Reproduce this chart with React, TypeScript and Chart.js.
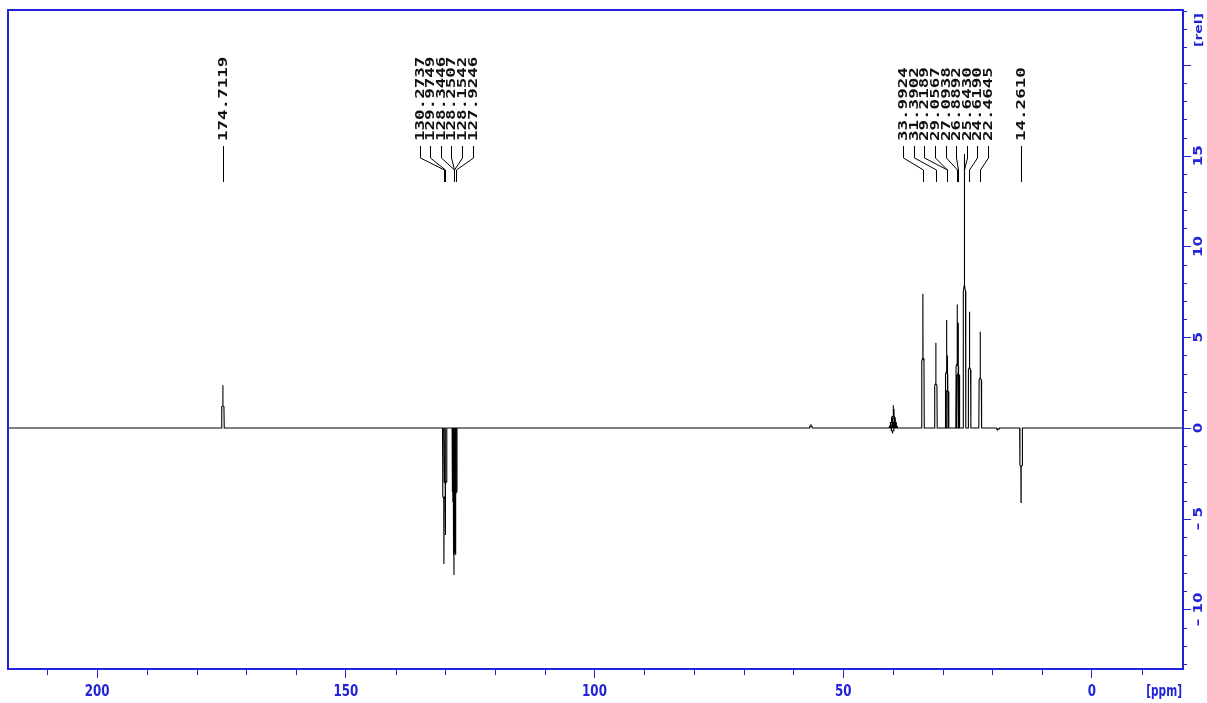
import React, { useEffect, useRef } from "react";
import { Chart, registerables } from "chart.js";
Chart.register(...registerables);

// ---- data ----
// labelled signals (ppm, relative intensity)
const signalPpm = [
  174.7119, 130.2737, 129.9749, 128.3446, 128.2507, 128.1542, 127.9246,
  33.9924, 31.3902, 29.2189, 29.0567, 27.0938, 26.8892, 25.643, 24.619, 22.4645,
  14.261,
];
const signalHeight = [
  2.35, -7.5, -5.9, -7.0, -8.1, -6.9, -7.0,
  7.4, 4.7, 5.95, 4.0, 6.8, 5.8, 15.1, 6.4, 5.3,
  -4.1,
];
// unlabelled small signals (solvent multiplet, impurities)
const minorPpm = [56.5, 40.5, 40.3, 40.1, 39.95, 39.8, 39.6, 39.4, 18.9];
const minorHeight = [0.2, 0.2, 0.6, -0.3, 1.25, 1.05, 0.6, 0.2, -0.1];

const xMajorTicks = [200, 150, 100, 50, 0];
const xTickText = ["200", "150", "100", "50", "0"];
const yLabelTicks = [-10, -5, 0, 5, 10, 15];
const yLabelText = ["\u2013 10", "\u2013 5", "0", "5", "10", "15"];

const X_MIN = -18.3;
const X_MAX = 217.9;
const Y_MIN = -13.28;
const Y_MAX = 23.03;

const BLUE = "#2222d8";
const SANS = '"DejaVu Sans", sans-serif';

function buildSpectrum() {
  const peaks = signalPpm
    .map((p, i) => ({ p, h: signalHeight[i] }))
    .concat(minorPpm.map((p, i) => ({ p, h: minorHeight[i] })))
    .sort((a, b) => b.p - a.p);
  const pts: { x: number; y: number }[] = [{ x: X_MAX, y: 0 }];
  for (const { p, h } of peaks) {
    pts.push({ x: p + 0.28, y: 0 });
    pts.push({ x: p + 0.22, y: h * 0.5 });
    pts.push({ x: p + 0.03, y: h * 0.52 });
    pts.push({ x: p, y: h });
    pts.push({ x: p - 0.03, y: h * 0.52 });
    pts.push({ x: p - 0.22, y: h * 0.5 });
    pts.push({ x: p - 0.28, y: 0 });
  }
  pts.push({ x: X_MIN, y: 0 });
  return pts;
}

function drawText(
  ctx: CanvasRenderingContext2D,
  text: string,
  x: number,
  y: number,
  o: { font: string; color: string; sx: number; rot: boolean; align: CanvasTextAlign; base: CanvasTextBaseline }
) {
  ctx.save();
  ctx.translate(x, y);
  ctx.scale(o.sx, 1);
  if (o.rot) ctx.rotate(-Math.PI / 2);
  ctx.font = o.font;
  ctx.fillStyle = o.color;
  ctx.textAlign = o.align;
  ctx.textBaseline = o.base;
  ctx.fillText(text, 0, 0);
  ctx.restore();
}

const nmrPlugin = {
  id: "nmrDecor",
  afterDraw(chart: any) {
    const { ctx, chartArea } = chart;
    const xs = chart.scales.x;
    const ys = chart.scales.y;
    const { left, right, top, bottom } = chartArea;
    ctx.save();

    // frame
    ctx.strokeStyle = BLUE;
    ctx.lineWidth = 2;
    ctx.strokeRect(left, top, right - left, bottom - top);

    // minor x ticks
    ctx.lineWidth = 1;
    for (let v = Math.ceil(X_MIN / 10) * 10; v <= X_MAX; v += 10) {
      if (v % 50 === 0) continue;
      const px = Math.round(xs.getPixelForValue(v)) + 0.5;
      ctx.beginPath();
      ctx.moveTo(px, bottom);
      ctx.lineTo(px, bottom + 6);
      ctx.stroke();
    }

    // x labels
    xMajorTicks.forEach((v, i) => {
      drawText(ctx, xTickText[i], xs.getPixelForValue(v), bottom + 14, {
        font: `bold 16.5px ${SANS}`, color: BLUE, sx: 0.72, rot: false, align: "center", base: "top",
      });
    });
    drawText(ctx, "[ppm]", right - 1, bottom + 14, {
      font: `bold 16.5px ${SANS}`, color: BLUE, sx: 0.64, rot: false, align: "right", base: "top",
    });

    // y ticks
    for (let v = Math.ceil(Y_MIN); v <= Y_MAX; v += 1) {
      const py = Math.round(ys.getPixelForValue(v)) + 0.5;
      ctx.beginPath();
      ctx.moveTo(right, py);
      ctx.lineTo(right + (v % 5 === 0 ? 8 : 4), py);
      ctx.stroke();
    }

    // y labels (rotated)
    yLabelTicks.forEach((v, i) => {
      drawText(ctx, yLabelText[i], right + 16, ys.getPixelForValue(v), {
        font: `bold 15px ${SANS}`, color: BLUE, sx: 0.78, rot: true, align: "center", base: "middle",
      });
    });
    drawText(ctx, "[rel]", right + 16, top + 3, {
      font: `bold 14px ${SANS}`, color: BLUE, sx: 0.78, rot: true, align: "right", base: "middle",
    });

    // peak labels
    const px = signalPpm.map((p) => xs.getPixelForValue(p));
    const groups: number[][] = [];
    px.forEach((x, i) => {
      const g = groups[groups.length - 1];
      if (g && Math.abs(x - px[g[g.length - 1]]) < 30) g.push(i);
      else groups.push([i]);
    });
    const spacing = 10.6;
    const yText = top + 131;
    const y1 = top + 136;
    const y2 = top + 148;
    const y3 = top + 160;
    const y4 = top + 172;
    ctx.strokeStyle = "#000";
    ctx.lineWidth = 1;
    for (const g of groups) {
      const n = g.length;
      const mean = g.reduce((s, i) => s + px[i], 0) / n;
      const shift = n > 1 ? -(n - 1) : 0;
      g.forEach((idx, k) => {
        const lx = Math.round(mean + shift + (k - (n - 1) / 2) * spacing) + 0.5;
        const tx = Math.round(px[idx]) + 0.5;
        drawText(ctx, signalPpm[idx].toFixed(4), lx, yText, {
          font: 'bold 17.5px "DejaVu Sans Mono", monospace', color: "#111", sx: 0.75, rot: true, align: "left", base: "middle",
        });
        ctx.beginPath();
        ctx.moveTo(lx, y1);
        ctx.lineTo(lx, y2);
        ctx.lineTo(tx, y3);
        ctx.lineTo(tx, y4);
        ctx.stroke();
      });
    }
    ctx.restore();
  },
};

export default function App() {
  const ref = useRef<HTMLCanvasElement | null>(null);
  useEffect(() => {
    if (!ref.current) return;
    const chart = new Chart(ref.current, {
      type: "line",
      data: {
        datasets: [
          {
            data: buildSpectrum(),
            borderColor: "#000",
            borderWidth: 1.1,
            pointRadius: 0,
            tension: 0,
            fill: false,
          },
        ],
      },
      options: {
        responsive: false,
        animation: false,
        layout: { padding: { left: 8, right: 24, top: 10, bottom: 0 } },
        plugins: { legend: { display: false }, tooltip: { enabled: false } },
        scales: {
          x: {
            type: "linear",
            reverse: true,
            min: X_MIN,
            max: X_MAX,
            afterFit: (s: any) => {
              s.height = 34;
            },
            afterBuildTicks: (s: any) => {
              s.ticks = xMajorTicks.map((v) => ({ value: v }));
            },
            grid: { drawOnChartArea: false, tickLength: 9, tickColor: BLUE, tickWidth: 1 },
            border: { color: BLUE, width: 2 },
            ticks: { display: false },
          },
          y: { type: "linear", min: Y_MIN, max: Y_MAX, display: false },
        },
      },
      plugins: [nmrPlugin],
    } as any);
    return () => chart.destroy();
  }, []);
  return (
    <div style={{ position: "fixed", left: 0, top: 0, width: 1207, height: 703, background: "#fff" }}>
      <canvas ref={ref} width={1207} height={703} style={{ display: "block" }} />
    </div>
  );
}
